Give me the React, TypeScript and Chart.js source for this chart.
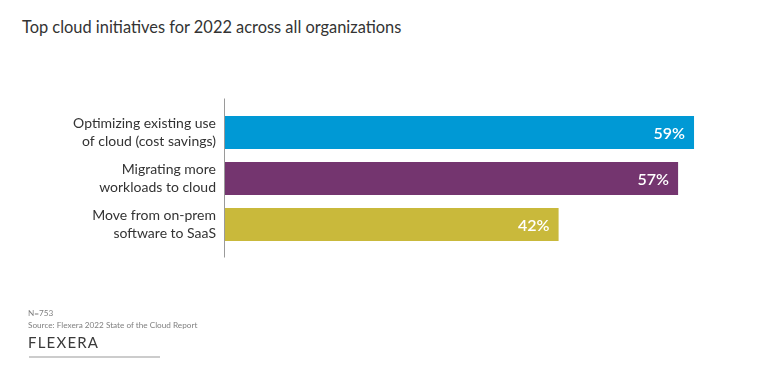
import React, { useEffect, useRef } from "react";
import { Chart, registerables } from "chart.js";

Chart.register(...registerables);

const categories: string[][] = [
  ["Optimizing existing use", "of cloud (cost savings)"],
  ["Migrating more", "workloads to cloud"],
  ["Move from on-prem", "software to SaaS"],
];
const values: number[] = [59, 57, 42];
const colors: string[] = ["#0099D5", "#74356F", "#C9B93B"];
const valueLabels: string[] = ["59%", "57%", "42%"];

const FONT = "Lato, 'Noto Sans', sans-serif";

const axisLinePlugin = {
  id: "axisLine",
  afterDatasetsDraw(chart: any) {
    const { ctx, chartArea, scales } = chart;
    const x = Math.round(scales.x.getPixelForValue(0)) + 0.5;
    ctx.save();
    ctx.strokeStyle = "#9a9a9a";
    ctx.lineWidth = 1;
    ctx.beginPath();
    ctx.moveTo(x, chartArea.top - 11);
    ctx.lineTo(x, chartArea.bottom + 10);
    ctx.stroke();
    ctx.restore();
  },
};

const valueLabelPlugin = {
  id: "valueLabels",
  afterDatasetsDraw(chart: any) {
    const { ctx } = chart;
    const meta = chart.getDatasetMeta(0);
    ctx.save();
    ctx.fillStyle = "#ffffff";
    ctx.font = `600 16px ${FONT}`;
    ctx.textAlign = "right";
    ctx.textBaseline = "middle";
    meta.data.forEach((bar: any, i: number) => {
      ctx.fillText(valueLabels[i], bar.x - 9, bar.y + 1);
    });
    ctx.restore();
  },
};

export default function App() {
  const ref = useRef<HTMLCanvasElement>(null);
  useEffect(() => {
    if (!ref.current) return;
    const chart = new Chart(ref.current, {
      type: "bar",
      data: {
        labels: categories,
        datasets: [
          {
            data: values,
            backgroundColor: colors,
            borderWidth: 0,
            categoryPercentage: 1,
            barPercentage: 0.72,
          },
        ],
      },
      options: {
        indexAxis: "y",
        animation: false,
        responsive: false,
        maintainAspectRatio: false,
        layout: { padding: { top: 109.5, bottom: 136.5, right: 66, left: 0 } },
        plugins: { legend: { display: false }, tooltip: { enabled: false } },
        scales: {
          x: { display: false, min: 0, max: 60 },
          y: {
            grid: { display: false, drawTicks: false },
            border: { display: false },
            ticks: {
              color: "#333333",
              padding: 8,
              font: { family: FONT, size: 14, lineHeight: 1.22 },
            },
            afterFit(scale: any) {
              scale.width = 224;
            },
          },
        },
      },
      plugins: [axisLinePlugin, valueLabelPlugin],
    });
    return () => chart.destroy();
  }, []);

  return (
    <div style={{ position: "fixed", left: 0, top: 0, width: 768, height: 384, background: "#fff", fontFamily: FONT }}>
      <div style={{ position: "absolute", left: 22, top: 17, fontSize: 16.4, color: "#333", whiteSpace: "nowrap" }}>
        Top cloud initiatives for 2022 across all organizations
      </div>
      <canvas ref={ref} width={768} height={384} style={{ position: "absolute", left: 0, top: 0 }} />
      <div style={{ position: "absolute", left: 28, top: 307, fontSize: 8.2, color: "#808080", lineHeight: "12px", whiteSpace: "nowrap" }}>
        <div>N=753</div>
        <div>Source: Flexera 2022 State of the Cloud Report</div>
      </div>
      <div style={{ position: "absolute", left: 28, top: 333, fontSize: 15, color: "#3a3a3a", letterSpacing: 1.2, whiteSpace: "nowrap" }}>
        FLEXERA
      </div>
      <div style={{ position: "absolute", left: 29, top: 356, width: 131, height: 2, background: "#cccccc" }} />
    </div>
  );
}
